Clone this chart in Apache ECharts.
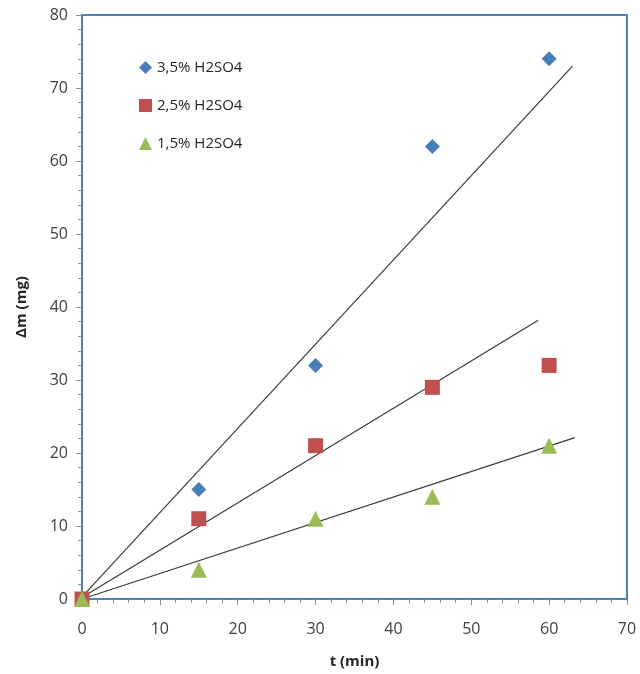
<!DOCTYPE html>
<html><head><meta charset="utf-8">
<script src="https://cdn.jsdelivr.net/npm/echarts@6/dist/echarts.min.js"></script>
<style>html,body{margin:0;padding:0;background:#fff}#c{width:640px;height:674px}</style>
</head><body><div id="c"></div>
<script>
var times = [0, 15, 30, 45, 60];
var names = ['3,5% H2SO4', '2,5% H2SO4', '1,5% H2SO4'];
var s35 = [0, 15, 32, 62, 74];
var s25 = [0, 11, 21, 29, 32];
var s15 = [0, 4, 11, 14, 21];
// trendline endpoints [x, y]
var t35 = [[0, 0.3], [63, 73]];
var t25 = [[0, 0.2], [58.6, 38.2]];
var t15 = [[0, 0], [63.3, 22.1]];
var colors = ['#4a7ebb', '#c0504d', '#9bbb59'];
var symbols = ['diamond', 'rect', 'triangle'];

function pts(v){ return times.map(function(t,i){ return [t, v[i]]; }); }
var font = 'Open Sans';
var series = [];
[s35, s25, s15].forEach(function(v, i){
  series.push({name: names[i], type: 'scatter', data: pts(v), symbol: symbols[i],
    symbolSize: symbols[i]==='diamond'?15:(symbols[i]==='rect'?15:16),
    itemStyle: {color: colors[i], opacity: 1}, z: 3});
});
[t35, t25, t15].forEach(function(t){
  series.push({type: 'line', data: t, symbol: 'none', silent: true,
    lineStyle: {color: '#3a3a3a', width: 1.2}, z: 2});
});
var axisCommon = {
  min: 0, interval: 10,
  axisLine: {show: true, lineStyle: {color: '#4f81bd', width: 2}},
  axisTick: {show: true, length: 6, lineStyle: {color: '#8c8c8c'}},
  minorTick: {show: true, splitNumber: 5, length: 4, lineStyle: {color: '#8c8c8c'}},
  splitLine: {show: false},
  axisLabel: {color: '#404040', fontFamily: font, fontSize: 16},
  nameTextStyle: {color: '#262626', fontFamily: font, fontSize: 15, fontWeight: 'bold'}
};
var chart = echarts.init(document.getElementById('c'));
chart.setOption({
  animation: false,
  grid: {left: 82, right: 13, top: 15, bottom: 75, containLabel: false, outerBoundsMode: 'none',
    show: true, borderColor: '#4f81bd', borderWidth: 2},
  legend: {
    orient: 'vertical', left: 134, top: 55, itemWidth: 13, itemHeight: 13, itemGap: 23,
    textStyle: {color: '#262626', fontFamily: font, fontSize: 15},
    data: names.map(function(n, i){ return {name: n, icon: symbols[i]}; })
  },
  xAxis: Object.assign({}, axisCommon, {type: 'value', max: 70, name: 't (min)', nameLocation: 'middle', nameGap: 55,
    axisLabel: Object.assign({}, axisCommon.axisLabel, {margin: 22})}),
  yAxis: Object.assign({}, axisCommon, {type: 'value', max: 80, name: 'Δm (mg)', nameLocation: 'middle', nameGap: 53,
    axisLabel: Object.assign({}, axisCommon.axisLabel, {margin: 14})}),
  series: series
});
</script></body></html>
